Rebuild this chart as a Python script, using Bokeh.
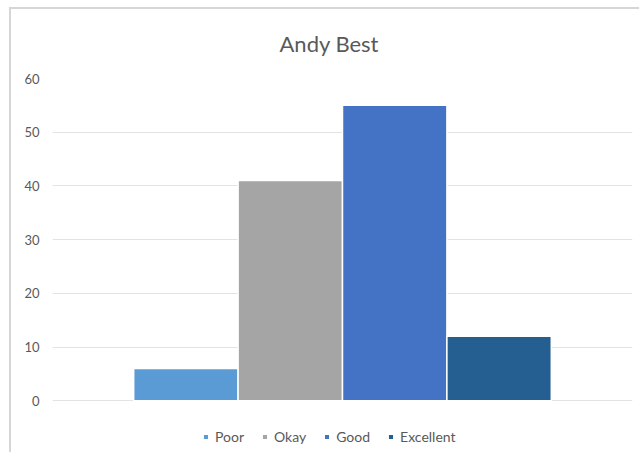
from bokeh.plotting import figure
from bokeh.models import ColumnDataSource, FactorRange, Range1d, FixedTicker, Legend, LegendItem
from bokeh.transform import dodge
from bokeh.embed import file_html
from bokeh.resources import INLINE

category = ["Andy Best"]
series = ["Poor", "Okay", "Good", "Excellent"]
values = [6, 41, 55, 12]
colors = ["#5B9BD5", "#A5A5A5", "#4472C4", "#255E91"]
y_ticks = [0, 10, 20, 30, 40, 50, 60]

FONT = "Lato"
TXT = "#595959"

# the frame extends below 0 so the legend can sit inside it; 5.4 px per unit
Y_START = -54 / 5.4

p = figure(width=630, height=445, x_range=FactorRange(*category, range_padding=0),
           y_range=Range1d(Y_START, 60), output_backend="svg", toolbar_location=None,
           x_axis_location=None,
           min_border_left=41, min_border_right=9, min_border_top=67, min_border_bottom=0)
p.styles = {"margin-top": "7px", "margin-left": "9px",
            "border-top": "2px solid #D6D6D6", "border-left": "2px solid #D6D6D6",
            "border-right": "none", "border-bottom": "none"}

p.title.text = "Andy Best"
p.title.align = "left"
p.title.offset = 227
p.title.vertical_align = "top"
p.title.text_font = FONT
p.title.text_font_size = "22px"
p.title.text_font_style = "normal"
p.title.text_color = TXT
p.title.standoff = 40

bar_w = 0.18
items = []
for i, (s, v, c) in enumerate(zip(series, values, colors)):
    src = ColumnDataSource(dict(cat=category, top=[v]))
    r = p.vbar(x=dodge("cat", (i - 1.5) * bar_w, range=p.x_range), top="top", bottom=0,
               width=bar_w, source=src, fill_color=c, line_color="white", line_width=1.5)
    items.append(LegendItem(label=s, renderers=[r]))

p.xgrid.grid_line_color = None
p.ygrid.grid_line_color = "#E3E3E3"
p.ygrid.grid_line_width = 1
p.ygrid.ticker = FixedTicker(ticks=y_ticks)
p.yaxis.ticker = FixedTicker(ticks=y_ticks)
p.yaxis.axis_line_color = None
p.yaxis.major_tick_line_color = None
p.yaxis.minor_tick_line_color = None
p.yaxis.major_tick_out = 0
p.yaxis.major_tick_in = 0
p.yaxis.major_label_text_color = TXT
p.yaxis.major_label_text_font = FONT
p.yaxis.major_label_text_font_size = "13px"
p.yaxis.major_label_standoff = 13
p.outline_line_color = None

legend = Legend(items=items, orientation="horizontal", location=(150, 9))
legend.glyph_width = 7
legend.glyph_height = 7
legend.label_standoff = 6
legend.spacing = 17
legend.padding = 0
legend.margin = 0
legend.border_line_color = None
legend.background_fill_alpha = 0
legend.label_text_font = FONT
legend.label_text_font_size = "14px"
legend.label_text_color = TXT
p.add_layout(legend, "center")

open("out.html", "w").write(file_html(p, INLINE))
